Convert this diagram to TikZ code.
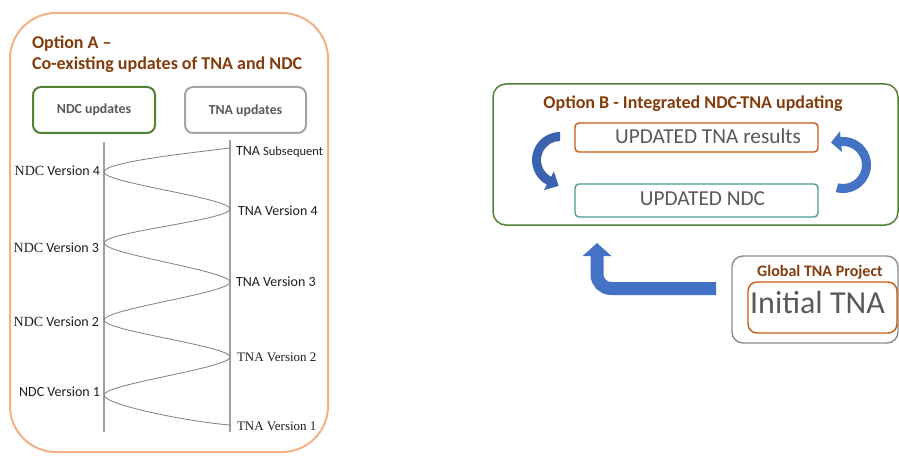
\documentclass[tikz,border=0pt]{standalone}
\usepackage{fontspec}
\setmainfont{Carlito}
\newfontfamily\serifx{Liberation Serif}
\usetikzlibrary{arrows.meta,calc}
\definecolor{peach}{HTML}{F4B183}
\definecolor{brownt}{HTML}{843C0C}
\definecolor{greenb}{HTML}{548235}
\definecolor{grayb}{HTML}{A6A6A6}
\definecolor{grayt}{HTML}{595959}
\definecolor{oranb}{HTML}{C55A11}
\definecolor{tealb}{HTML}{4A9A96}
\definecolor{bluea}{HTML}{4472C4}
\definecolor{blued}{HTML}{3A62AE}
\definecolor{lineg}{HTML}{A0A0A0}
\definecolor{waveg}{HTML}{7F7F7F}
\definecolor{boxg}{HTML}{8C8C8C}
\begin{document}
\begin{tikzpicture}[x=1pt,y=-1pt,
  box/.style={inner sep=0pt, outer sep=0pt},
  txt/.style={inner sep=0pt, outer sep=0pt},
  ttl/.style={txt, text=brownt, font=\bfseries\fontsize{18}{22}\selectfont},
  hdr/.style={txt, text=grayt, font=\bfseries\fontsize{13.8}{16}\selectfont},
  lab/.style={txt, text=black!88, font=\fontsize{14}{16}\selectfont},
  big/.style={txt, text=grayt, font=\fontsize{21.3}{25}\selectfont},
  vline/.style={draw=lineg, line width=1.6pt},
  wave/.style={draw=waveg, line width=0.8pt},
  crescent/.style={fill=blued, draw=none},
]
\useasboundingbox (0,0) rectangle (899,457);
\fill[white] (0,0) rectangle (899,457);

% ---------------- Option A ----------------
\node[box, draw=peach, line width=2pt, rounded corners=46pt,
      minimum width=318pt, minimum height=439pt] (boxA) at (169,232.5) {};
\node[ttl, anchor=base west] (tA1) at (32,48.3) {Option A –};
\node[ttl, anchor=base west] (tA2) at (32,70) {Co-existing updates of TNA and NDC};

\node[box, draw=greenb, line width=2pt, rounded corners=8pt,
      minimum width=122pt, minimum height=46pt] (ndcbox) at (94,110) {};
\node[hdr, anchor=base] (ndct) at (94,113.5) {NDC updates};
\node[box, draw=grayb, line width=2pt, rounded corners=8pt,
      minimum width=121pt, minimum height=46pt] (tnabox) at (245.5,110) {};
\node[hdr, anchor=base] (tnat) at (245.5,114.5) {TNA updates};

\coordinate (Lt) at (104,142); \coordinate (Lb) at (104,432);
\coordinate (Rt) at (230,140); \coordinate (Rb) at (230,432);
\draw[vline] (Lt) -- (Lb);
\draw[vline] (Rt) -- (Rb);

\coordinate (r5) at (230,148);
\coordinate (l4) at (104,172);
\coordinate (r4) at (230,209);
\coordinate (l3) at (104,243);
\coordinate (r3) at (230,282);
\coordinate (l2) at (104,320);
\coordinate (r2) at (230,357);
\coordinate (l1) at (104,395);
\coordinate (r1) at (230,425);
\draw[wave] (r5) .. controls +(-40,5) and +(0,-10) .. (l4)
  .. controls +(0,11) and +(0,-11) .. (r4)
  .. controls +(0,11) and +(0,-11) .. (l3)
  .. controls +(0,11) and +(0,-11) .. (r3)
  .. controls +(0,11) and +(0,-11) .. (l2)
  .. controls +(0,11) and +(0,-11) .. (r2)
  .. controls +(0,11) and +(0,-11) .. (l1)
  .. controls +(0,10) and +(-40,-3) .. (r1);

\node[lab, anchor=base east] (n4) at (100,176) {{\serifx NDC} Version 4};
\node[lab, anchor=base east] (n3) at (99,252.3) {{\serifx NDC} Version 3};
\node[lab, anchor=base east] (n2) at (99,326) {{\serifx NDC} Version 2};
\node[lab, anchor=base east] (n1) at (100,396) {NDC Version 1};

\node[lab, anchor=base west] (t5) at (236,156) {TNA {\fontsize{12.5}{14}\selectfont Subsequent}};
\node[lab, anchor=base west] (t4) at (238,215.7) {TNA Version 4};
\node[lab, anchor=base west] (t3) at (236,286.7) {TNA Version 3};
\node[lab, anchor=base west, font=\serifx\fontsize{13}{16}\selectfont] (t2) at (237,361) {TNA Version 2};
\node[lab, anchor=base west, font=\serifx\fontsize{13}{16}\selectfont] (t1) at (237,430.7) {TNA Version 1};

% ---------------- Option B ----------------
\node[box, draw=greenb, line width=1.5pt, rounded corners=13pt,
      minimum width=405pt, minimum height=141pt] (boxB) at (695.5,154.5) {};
\node[ttl, anchor=base] (tB) at (693,109) {Option B - Integrated NDC-TNA updating};

\node[box, draw=oranb, line width=1.4pt, rounded corners=4pt,
      minimum width=243pt, minimum height=29pt] (upT) at (696.5,137.5) {};
\node[big, anchor=base] (upTt) at (708,143.5) {UPDATED TNA results};
\node[box, draw=tealb, line width=1.4pt, rounded corners=4pt,
      minimum width=243pt, minimum height=33pt] (upN) at (696.5,200.5) {};
\node[big, anchor=base] (upNt) at (702.5,205.5) {UPDATED NDC};

% curved arrows
\coordinate (cl) at (560,160);
\fill[crescent] ($(cl)+(270:28)$) arc[start angle=270, end angle=118, radius=28]
  -- ($(cl)+(118:34)$) -- ($(cl)+(118:23.5)+(28:11)$) -- ($(cl)+(118:13)$)
  -- ($(cl)+(118:19)$) arc[start angle=118, end angle=270, radius=19] -- cycle;
\coordinate (cr) at (843,165);
\fill[crescent, fill=bluea] ($(cr)+(105:28)$) arc[start angle=105, end angle=-95, radius=28]
  -- ($(cr)+(-95:34)$) -- ($(cr)+(-95:23.5)+(175:10)$) -- ($(cr)+(-95:13)$)
  -- ($(cr)+(-95:19)$) arc[start angle=-95, end angle=105, radius=19] -- cycle;

% ---------------- Global TNA ----------------
\node[box, draw=boxg, line width=1.4pt, rounded corners=11pt,
      minimum width=166pt, minimum height=87pt] (glob) at (815,299.5) {};
\node[ttl, font=\bfseries\fontsize{16}{19}\selectfont, anchor=base] (globt) at (820,276) {Global TNA Project};
\node[box, draw=oranb, line width=1.4pt, rounded corners=9pt,
      minimum width=149pt, minimum height=51pt] (init) at (822.5,307.5) {};
\node[txt, text=grayt, font=\fontsize{32}{36}\selectfont, anchor=base] (initt) at (817.5,313) {Initial TNA};

\coordinate (ea) at ($(glob.west)+(-16,-11)$);
\coordinate (eb) at (597,243);
\draw[bluea, line width=13pt, rounded corners=14pt,
      -{Triangle[width=28pt,length=13pt]}] (ea) -| (eb);
\end{tikzpicture}
\end{document}
